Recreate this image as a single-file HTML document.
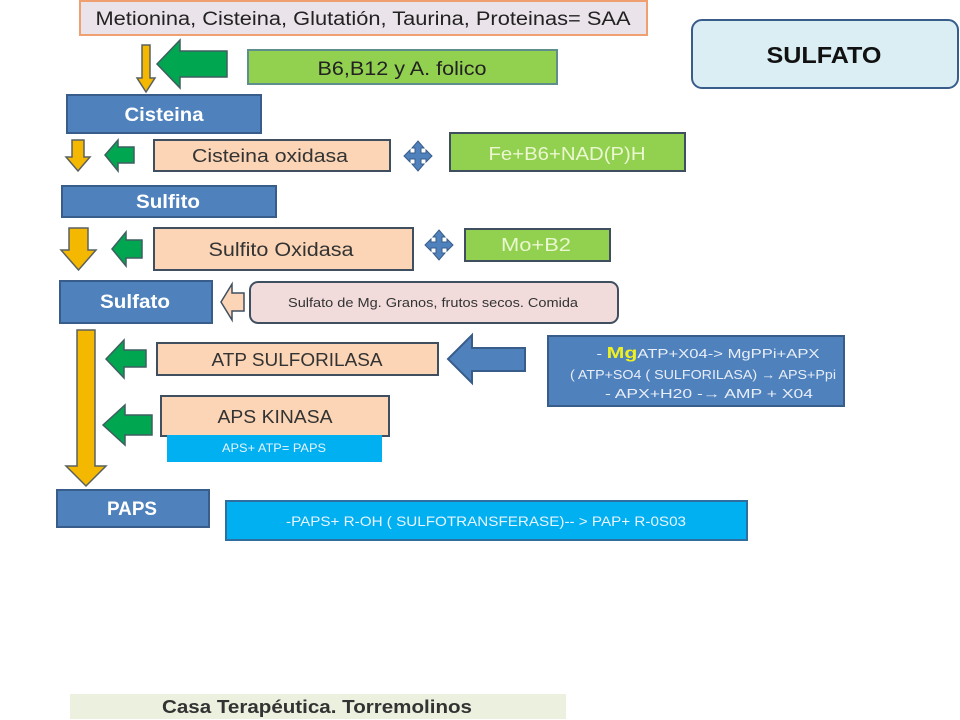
<!DOCTYPE html>
<html><head><meta charset="utf-8"><style>
body{margin:0;background:#fff}
svg{display:block}
text{font-family:"Liberation Sans",sans-serif}
</style></head><body>
<svg width="960" height="720" viewBox="0 0 960 720" xmlns="http://www.w3.org/2000/svg">
<g stroke="#3f4f60" stroke-width="2">
<rect x="80" y="1" width="567" height="34" fill="#ebe3ea" stroke="#f0a070"/>
<rect x="248" y="50" width="309" height="34" fill="#92d050" stroke="#5f8f8a"/>
<rect x="67" y="95" width="194" height="38" fill="#4f81bd" stroke="#385d8a"/>
<rect x="154" y="140" width="236" height="31" fill="#fbd5b5"/>
<rect x="450" y="133" width="235" height="38" fill="#92d050"/>
<rect x="62" y="186" width="214" height="31" fill="#4f81bd" stroke="#385d8a"/>
<rect x="154" y="228" width="259" height="42" fill="#fbd5b5"/>
<rect x="465" y="229" width="145" height="32" fill="#92d050"/>
<rect x="60" y="281" width="152" height="42" fill="#4f81bd" stroke="#385d8a"/>
<rect x="250" y="282" width="368" height="41" rx="8" fill="#f2dcdb"/>
<rect x="157" y="343" width="281" height="32" fill="#fbd5b5"/>
<rect x="548" y="336" width="296" height="70" fill="#4f81bd" stroke="#385d8a"/>
<rect x="161" y="396" width="228" height="40" fill="#fbd5b5"/>
<rect x="168" y="436" width="213" height="25" fill="#00b0f0" stroke="#00b0f0"/>
<rect x="57" y="490" width="152" height="37" fill="#4f81bd" stroke="#385d8a"/>
<rect x="226" y="501" width="521" height="39" fill="#00b0f0" stroke="#2f6f9f"/>
<rect x="692" y="20" width="266" height="68" rx="10" fill="#dbeef4" stroke="#385d8a"/>
<g fill="#f5b800" stroke="#5a6060" stroke-width="1.5">
<polygon points="142,45 150,45 150,78 155,78 146,92 137,78 142,78"/>
<polygon points="72,140 84,140 84,157 90,157 78,171 66,157 72,157"/>
<polygon points="69,228 88,228 88,250 96,250 78.5,270 61,250 69,250"/>
<polygon points="77,330 95,330 95,466 106,466 86,486 66,466 77,466"/>
</g>
<g fill="#00a650" stroke="#3f5f60" stroke-width="1.5">
<polygon points="157,64 180,40 180,51 227,51 227,77 180,77 180,88"/>
<polygon points="105,155 118,140 118,147 134,147 134,163 118,163 118,171"/>
<polygon points="112,249 126,232 126,240 142,240 142,258 126,258 126,266"/>
<polygon points="106,359 124,340 124,350 146,350 146,367 124,367 124,378"/>
<polygon points="103,425 125,405 125,415 152,415 152,435 125,435 125,445"/>
</g>
<polygon points="448,359 472,335 472,348 525,348 525,371 472,371 472,383" fill="#4f81bd" stroke="#385d8a"/>
<polygon points="221,302 232,284 232,293 244,293 244,311 232,311 232,320" fill="#fbd5b5" stroke="#3f4f60" stroke-width="1.5"/>
<g fill="#4f81bd" stroke="#385d8a" stroke-width="1">
<polygon points="418,141 424,148 421,148 421,153 426,153 426,150 432,156 426,162 426,159 421,159 421,164 424,164 418,171 412,164 415,164 415,159 410,159 410,162 404,156 410,150 410,153 415,153 415,148 412,148"/>
<polygon points="439,230 445,237 442,237 442,242 447,242 447,239 453,245 447,251 447,248 442,248 442,253 445,253 439,260 433,253 436,253 436,248 431,248 431,251 425,245 431,239 431,242 436,242 436,237 433,237"/>
</g>
</g>
<rect x="70" y="694" width="496" height="25" fill="#ebf1de"/>
<g text-anchor="middle" lengthAdjust="spacingAndGlyphs">
<text x="363" y="25" font-size="19" fill="#222" textLength="535" lengthAdjust="spacingAndGlyphs">Metionina, Cisteina, Glutatión, Taurina, Proteinas= SAA</text>
<text x="402" y="75" font-size="19" fill="#222" textLength="169" lengthAdjust="spacingAndGlyphs">B6,B12 y A. folico</text>
<text x="164" y="121" font-size="19" font-weight="bold" fill="#fff" textLength="79" lengthAdjust="spacingAndGlyphs">Cisteina</text>
<text x="270" y="162" font-size="18" fill="#333" textLength="156" lengthAdjust="spacingAndGlyphs">Cisteina oxidasa</text>
<text x="567" y="160" font-size="18" fill="#eaf7d0" textLength="157" lengthAdjust="spacingAndGlyphs">Fe+B6+NAD(P)H</text>
<text x="168" y="208" font-size="19" font-weight="bold" fill="#fff" textLength="64" lengthAdjust="spacingAndGlyphs">Sulfito</text>
<text x="281" y="256" font-size="19" fill="#333" textLength="145" lengthAdjust="spacingAndGlyphs">Sulfito Oxidasa</text>
<text x="536" y="251" font-size="18" fill="#eaf7d0" textLength="70" lengthAdjust="spacingAndGlyphs">Mo+B2</text>
<text x="135" y="308" font-size="19" font-weight="bold" fill="#fff" textLength="70" lengthAdjust="spacingAndGlyphs">Sulfato</text>
<text x="433" y="307" font-size="13" fill="#333" textLength="290" lengthAdjust="spacingAndGlyphs">Sulfato de Mg. Granos, frutos secos.  Comida</text>
<text x="297" y="366" font-size="18" fill="#333" textLength="171" lengthAdjust="spacingAndGlyphs">ATP SULFORILASA</text>
<text x="708" y="358" font-size="12.5" fill="#e8eef8" textLength="223" lengthAdjust="spacingAndGlyphs">-   <tspan fill="#f0f020" font-weight="bold" font-size="16">Mg</tspan>ATP+X04-&gt; MgPPi+APX</text>
<text x="703" y="379" font-size="12.5" fill="#e8eef8" textLength="266" lengthAdjust="spacingAndGlyphs">( ATP+SO4  ( SULFORILASA) → APS+Ppi</text>
<text x="709" y="398" font-size="12.5" fill="#e8eef8" textLength="208" lengthAdjust="spacingAndGlyphs">-    APX+H20 -→  AMP + X04</text>
<text x="275" y="423" font-size="18" fill="#333" textLength="115" lengthAdjust="spacingAndGlyphs">APS KINASA</text>
<text x="274" y="452" font-size="12" fill="#e8f4ff" textLength="104" lengthAdjust="spacingAndGlyphs">APS+ ATP= PAPS</text>
<text x="132" y="515" font-size="19" font-weight="bold" fill="#fff" textLength="50" lengthAdjust="spacingAndGlyphs">PAPS</text>
<text x="486" y="526" font-size="14" fill="#e8f4ff" textLength="400" lengthAdjust="spacingAndGlyphs">-PAPS+ R-OH ( SULFOTRANSFERASE)-- &gt; PAP+ R-0S03</text>
<text x="824" y="63" font-size="23" font-weight="bold" fill="#111" textLength="115" lengthAdjust="spacingAndGlyphs">SULFATO</text>
<text x="317" y="713" font-size="18" font-weight="bold" fill="#333" textLength="310" lengthAdjust="spacingAndGlyphs">Casa Terapéutica. Torremolinos</text>
</g>
</svg>
</body></html>
